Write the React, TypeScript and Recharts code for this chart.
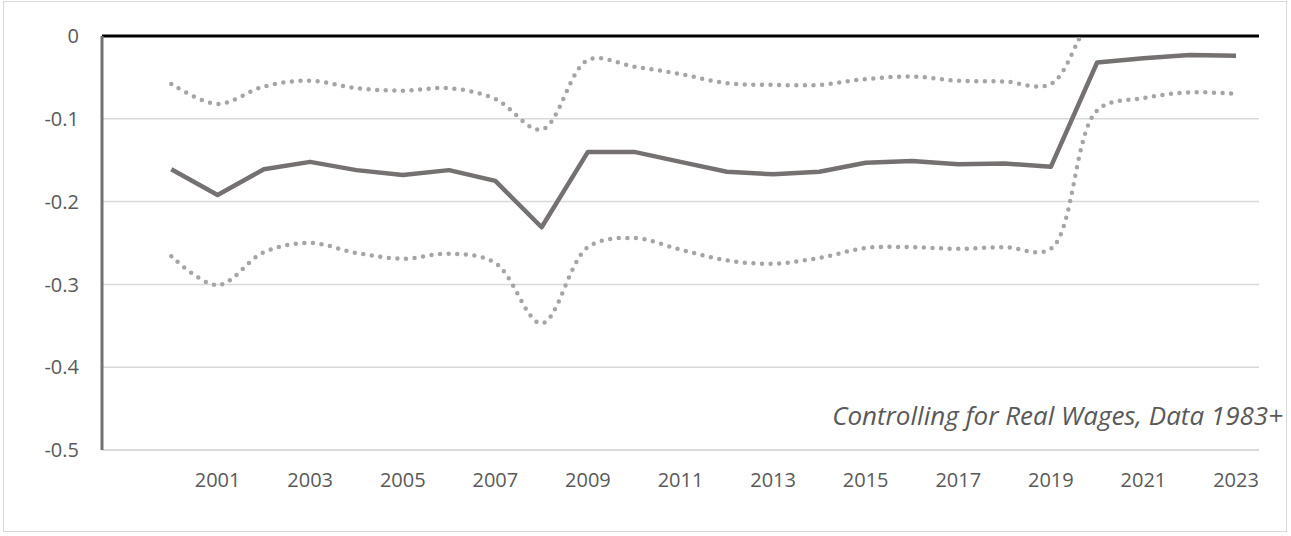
import React from 'react';
import { LineChart, Line, XAxis, YAxis, CartesianGrid, ReferenceLine } from 'recharts';

// first slot is an empty category, Excel-style
const years = ['', '2000', '2001', '2002', '2003', '2004', '2005', '2006', '2007', '2008', '2009', '2010', '2011',
  '2012', '2013', '2014', '2015', '2016', '2017', '2018', '2019', '2020', '2021', '2022', '2023'];

const tickLabels = ['2001', '2003', '2005', '2007', '2009', '2011', '2013', '2015', '2017', '2019', '2021', '2023'];

const yTicks = [0, -0.1, -0.2, -0.3, -0.4, -0.5];

const estimate = [null, -0.161, -0.192, -0.161, -0.152, -0.162, -0.168, -0.162, -0.175, -0.231, -0.14, -0.14, -0.152,
  -0.164, -0.167, -0.164, -0.153, -0.151, -0.155, -0.154, -0.158, -0.032, -0.027, -0.023, -0.024];

const upper = [null, -0.058, -0.082, -0.061, -0.054, -0.063, -0.066, -0.063, -0.076, -0.113, -0.029, -0.037, -0.046,
  -0.057, -0.059, -0.059, -0.052, -0.049, -0.054, -0.055, -0.058, 0.025, 0.021, 0.023, 0.022];

const lower = [null, -0.266, -0.301, -0.261, -0.25, -0.262, -0.269, -0.263, -0.274, -0.347, -0.255, -0.244, -0.258,
  -0.271, -0.275, -0.268, -0.256, -0.255, -0.257, -0.255, -0.257, -0.09, -0.075, -0.068, -0.07];

const data = years.map((year, i) => ({
  year,
  estimate: estimate[i],
  upper: upper[i],
  lower: lower[i],
}));

// centripetal catmull-rom: less overshoot than the plain one, close to Excel's smoothed line
const ALPHA = 0.5;
const EPS = 1e-6;

const smoothCurve = (context: any) => {
  let pts: number[][] = [];
  return {
    areaStart() {},
    areaEnd() {},
    lineStart() {
      pts = [];
    },
    lineEnd() {
      const n = pts.length;
      if (n === 0) return;
      context.moveTo(pts[0][0], pts[0][1]);
      for (let i = 0; i < n - 1; i++) {
        const p0 = pts[Math.max(i - 1, 0)];
        const p1 = pts[i];
        const p2 = pts[i + 1];
        const p3 = pts[Math.min(i + 2, n - 1)];
        const l01 = Math.hypot(p1[0] - p0[0], p1[1] - p0[1]);
        const l12 = Math.hypot(p2[0] - p1[0], p2[1] - p1[1]);
        const l23 = Math.hypot(p3[0] - p2[0], p3[1] - p2[1]);
        const l01a = Math.pow(l01, ALPHA);
        const l12a = Math.pow(l12, ALPHA);
        const l23a = Math.pow(l23, ALPHA);
        const l01_2a = Math.pow(l01, 2 * ALPHA);
        const l12_2a = Math.pow(l12, 2 * ALPHA);
        const l23_2a = Math.pow(l23, 2 * ALPHA);

        let c1x = p1[0];
        let c1y = p1[1];
        let c2x = p2[0];
        let c2y = p2[1];
        if (l01a > EPS) {
          const a = 2 * l01_2a + 3 * l01a * l12a + l12_2a;
          const m = 3 * l01a * (l01a + l12a);
          c1x = (p1[0] * a - p0[0] * l12_2a + p2[0] * l01_2a) / m;
          c1y = (p1[1] * a - p0[1] * l12_2a + p2[1] * l01_2a) / m;
        }
        if (l23a > EPS) {
          const b = 2 * l23_2a + 3 * l23a * l12a + l12_2a;
          const m = 3 * l23a * (l23a + l12a);
          c2x = (p2[0] * b + p1[0] * l23_2a - p3[0] * l12_2a) / m;
          c2y = (p2[1] * b + p1[1] * l23_2a - p3[1] * l12_2a) / m;
        }
        context.bezierCurveTo(c1x, c1y, c2x, c2y, p2[0], p2[1]);
      }
    },
    point(x: number, y: number) {
      pts.push([+x, +y]);
    },
  };
};

const font = '"Open Sans", sans-serif';

export default function App() {
  return (
    <div style={{ position: 'absolute', left: 0, top: 0, width: 1291, height: 536, background: '#fff' }}>
      <div
        style={{
          position: 'absolute',
          left: 3,
          top: 1,
          width: 1284,
          height: 531,
          border: '1.5px solid #D9D9D9',
          boxSizing: 'border-box',
        }}
      />
      <LineChart
        width={1291}
        height={536}
        data={data}
        margin={{ top: 36, right: 32, bottom: 56, left: 0 }}
      >
        <CartesianGrid vertical={false} stroke="#D9D9D9" strokeWidth={1.5} />
        <XAxis
          dataKey="year"
          interval={0}
          tickLine={false}
          tickSize={0}
          tickMargin={23}
          height={30}
          padding={{ left: 23, right: 23 }}
          axisLine={{ stroke: '#D9D9D9', strokeWidth: 1.5 }}
          tick={{ fill: '#595959', fontSize: 20, fontFamily: font }}
          tickFormatter={(v: string) => (tickLabels.includes(v) ? v : '')}
        />
        <YAxis
          type="number"
          domain={[-0.5, 0]}
          ticks={yTicks}
          allowDataOverflow
          width={102}
          tickLine={false}
          tickSize={0}
          tickMargin={23}
          axisLine={{ stroke: '#767171', strokeWidth: 3 }}
          tick={{ fill: '#595959', fontSize: 20, fontFamily: font }}
        />
        <ReferenceLine y={0} stroke="#000000" strokeWidth={3} />
        <Line
          dataKey="upper"
          type={smoothCurve as any}
          stroke="#A5A5A5"
          strokeWidth={4.5}
          strokeDasharray="0 8.6"
          strokeLinecap="round"
          dot={false}
          activeDot={false}
          isAnimationActive={false}
        />
        <Line
          dataKey="lower"
          type={smoothCurve as any}
          stroke="#A5A5A5"
          strokeWidth={4.5}
          strokeDasharray="0 8.6"
          strokeLinecap="round"
          dot={false}
          activeDot={false}
          isAnimationActive={false}
        />
        <Line
          dataKey="estimate"
          type="linear"
          stroke="#767171"
          strokeWidth={4.5}
          strokeLinejoin="round"
          dot={false}
          activeDot={false}
          isAnimationActive={false}
        />
      </LineChart>
      <div
        style={{
          position: 'absolute',
          right: 8,
          top: 402,
          fontFamily: font,
          fontStyle: 'italic',
          fontSize: 26,
          lineHeight: '26px',
          color: '#595959',
          whiteSpace: 'nowrap',
        }}
      >
        Controlling for Real Wages, Data 1983+
      </div>
    </div>
  );
}
